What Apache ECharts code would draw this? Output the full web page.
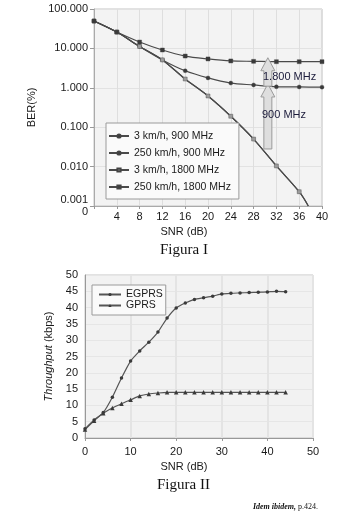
<!DOCTYPE html>
<html>
<head>
<meta charset="utf-8">
<script src="https://cdn.jsdelivr.net/npm/echarts@6.0.0/dist/echarts.min.js"></script>
<style>
  html, body { margin: 0; padding: 0; background: #fff; }
  #chart { width: 352px; height: 530px; }
</style>
</head>
<body>
<div id="chart"></div>
<script>
// Figura I: BER (%) vs SNR (dB)
const berSnr = [0, 4, 8, 12, 16, 20, 24, 28, 32, 36];
const ber3kmh900 = [49.5, 26, 11.2, 5.1, 1.67, 0.62, 0.19, 0.05, 0.0104, 0.0023];
const ber3kmh1800 = [49.5, 26, 11.2, 5.1, 1.67, 0.62, 0.19, 0.05, 0.0104, 0.0023];
const ber3kmhEnd = [37.6, 0.001];
const berSnrFull = [0, 4, 8, 12, 16, 20, 24, 28, 32, 36, 40];
const ber250kmh900 = [49.5, 26, 11.2, 5.1, 2.7, 1.78, 1.32, 1.18, 1.06, 1.05, 1.04];
const ber250kmh1800 = [49.5, 26, 14.5, 9.1, 6.4, 5.4, 4.8, 4.7, 4.6, 4.6, 4.6];
const berSeriesNames = ["3 km/h, 900 MHz", "250 km/h, 900 MHz", "3 km/h, 1800 MHz", "250 km/h, 1800 MHz"];

// Figura II: throughput (kbps) vs SNR (dB)
const thrSnr = [0, 2, 4, 6, 8, 10, 12, 14, 16, 18, 20, 22, 24, 26, 28, 30, 32, 34, 36, 38, 40, 42, 44];
const egprs = [2.8, 5.5, 7.8, 12.5, 18.4, 23.6, 26.7, 29.4, 32.5, 36.8, 39.9, 41.4, 42.5, 43.0, 43.5, 44.2, 44.4, 44.5, 44.6, 44.7, 44.8, 45.0, 44.9];
const gprs = [2.6, 5.3, 7.6, 9.2, 10.5, 11.7, 12.9, 13.5, 13.8, 14.0, 14.0, 14.0, 14.0, 14.0, 14.0, 14.0, 14.0, 14.0, 14.0, 14.0, 14.0, 14.0, 14.0];

const pairs = (xs, ys) => xs.map((x, i) => [x, ys[i]]);

const lineColor = "#4a4a4a";
const labelText = { color: "#1a1a1a", fontSize: 11, fontFamily: "Liberation Sans, Arial, sans-serif" };

const chart = echarts.init(document.getElementById("chart"), null, { renderer: "canvas" });

function berLine(name, data, symbol, size, color) {
  return {
    name, type: "line", xAxisIndex: 0, yAxisIndex: 0, data,
    symbol, symbolSize: size, showSymbol: true, smooth: 0.3,
    lineStyle: { color: lineColor, width: 1.2 },
    itemStyle: { color, borderColor: "#444", borderWidth: 0.4 },
    color,
  };
}

const option = {
  animation: false,
  grid: [
    { left: 94, top: 9, width: 228, height: 197, show: true, backgroundColor: "#f3f3f3", borderColor: "#c4c4c4", borderWidth: 1 },
    { left: 85, top: 275, width: 228, height: 163, show: true, backgroundColor: "#f2f2f2", borderColor: "#c4c4c4", borderWidth: 1 },
  ],
  xAxis: [
    {
      gridIndex: 0, type: "value", min: 0, max: 40, interval: 4,
      name: "SNR (dB)", nameLocation: "middle", nameGap: 20,
      nameTextStyle: { ...labelText, padding: [0, 48, 0, 0] },
      axisLine: { lineStyle: { color: "#aaa" } },
      axisTick: { show: true, length: 3, lineStyle: { color: "#999" } },
      axisLabel: { ...labelText, margin: 5, formatter: (v) => (v === 0 ? "" : String(v)) },
      splitLine: { show: true, lineStyle: { color: "#dedede" } },
    },
    {
      gridIndex: 1, type: "value", min: 0, max: 50, interval: 10,
      name: "SNR (dB)", nameLocation: "middle", nameGap: 23,
      nameTextStyle: { ...labelText, padding: [0, 30, 0, 0] },
      axisLine: { lineStyle: { color: "#999" } },
      axisTick: { show: true, length: 3, lineStyle: { color: "#999" } },
      axisLabel: { ...labelText, margin: 8 },
      splitLine: { show: true, lineStyle: { color: "#e4e4e4", width: 2 } },
    },
  ],
  yAxis: [
    {
      gridIndex: 0, type: "log", logBase: 10, min: 0.001, max: 100,
      name: "BER(%)", nameLocation: "middle", nameGap: 41,
      nameTextStyle: { ...labelText, fontSize: 11 },
      axisLine: { lineStyle: { color: "#aaa" } },
      axisTick: { show: true, length: 4, lineStyle: { color: "#999" } },
      axisLabel: {
        ...labelText, margin: 6, lineHeight: 12,
        formatter: (v) => (v.toFixed(3) === "0.001" ? "0.001\n0" : v.toFixed(3)),
      },
      splitLine: { show: true, lineStyle: { color: "#e2e2e2" } },
    },
    {
      gridIndex: 1, type: "value", min: 0, max: 50, interval: 5,
      name: "{i|Throughput} (kbps)", nameLocation: "middle", nameGap: 26,
      nameTextStyle: { ...labelText, rich: { i: { ...labelText, fontStyle: "italic" } } },
      axisLine: { lineStyle: { color: "#999" } },
      axisTick: { show: false },
      axisLabel: { ...labelText, margin: 7 },
      splitLine: { show: true, lineStyle: { color: "#e6e6e6" } },
    },
  ],
  legend: [
    {
      data: berSeriesNames, orient: "vertical", left: 106, top: 123,
      itemWidth: 20, itemHeight: 4, itemGap: 5,
      backgroundColor: "#fafafa", borderColor: "#9a9a9a", borderWidth: 1,
      padding: [7, 8, 6, 2], textStyle: { ...labelText, fontSize: 10.5, lineHeight: 12 },
    },
    {
      data: ["EGPRS", "GPRS"], orient: "vertical", left: 92, top: 285,
      itemWidth: 22, itemHeight: 4, itemGap: 0,
      backgroundColor: "#fafafa", borderColor: "#9a9a9a", borderWidth: 1,
      padding: [4, 3, 4, 6], textStyle: { ...labelText, fontSize: 10.5, lineHeight: 11 },
    },
  ],
  series: [
    berLine(berSeriesNames[0], pairs(berSnr, ber3kmh900).concat([{ value: ber3kmhEnd, symbol: "none" }]), "circle", 3, "#333"),
    berLine(berSeriesNames[1], pairs(berSnrFull, ber250kmh900), "circle", 4, "#3a3a3a"),
    berLine(berSeriesNames[2], pairs(berSnr, ber3kmh1800).concat([{ value: ber3kmhEnd, symbol: "none" }]), "rect", 4, "#9c9c9c"),
    berLine(berSeriesNames[3], pairs(berSnrFull, ber250kmh1800), "rect", 4, "#3a3a3a"),
    {
      name: "EGPRS", type: "line", xAxisIndex: 1, yAxisIndex: 1, data: pairs(thrSnr, egprs),
      symbol: "circle", symbolSize: 3.5, smooth: 0.2, lineStyle: { color: "#555", width: 1.2 },
      itemStyle: { color: "#3a3a3a" }, color: "#3a3a3a",
    },
    {
      name: "GPRS", type: "line", xAxisIndex: 1, yAxisIndex: 1, data: pairs(thrSnr, gprs),
      symbol: "triangle", symbolSize: 4.5, smooth: 0.2, lineStyle: { color: "#555", width: 1.2 },
      itemStyle: { color: "#3a3a3a" }, color: "#3a3a3a",
    },
  ],
};

chart.setOption(option);

// hollow grey arrows between the curves, positioned through the chart's own scales
function arrow(snr, fromVal, toVal) {
  const [cx, yb] = chart.convertToPixel({ gridIndex: 0 }, [snr, fromVal]);
  const [, yt] = chart.convertToPixel({ gridIndex: 0 }, [snr, toVal]);
  const hw = 4, hh = 7, head = 13;
  return {
    type: "polygon", z: 50,
    shape: { points: [[cx - hw, yb], [cx + hw, yb], [cx + hw, yt + head], [cx + hh, yt + head], [cx, yt], [cx - hh, yt + head], [cx - hw, yt + head]] },
    style: { fill: "#dedede", stroke: "#9a9a9a", lineWidth: 1 },
  };
}

const serif = "Liberation Serif, Times New Roman, serif";
chart.setOption({
  graphic: [
    arrow(30.5, 0.028, 1.25),
    arrow(30.5, 1.1, 5.8),
    { type: "text", z: 60, left: 263, top: 71, style: { text: "1.800 MHz", ...labelText, fill: "#1a1a3a", fontSize: 11 } },
    { type: "text", z: 60, left: 262, top: 109, style: { text: "900 MHz", ...labelText, fill: "#1a1a3a", fontSize: 11 } },
    { type: "text", left: 160, top: 243, style: { text: "Figura I", font: "15px " + serif, fill: "#111" } },
    { type: "text", left: 157, top: 478, style: { text: "Figura II", font: "15px " + serif, fill: "#111" } },
    {
      type: "text", right: 34, top: 503,
      style: {
        text: "{i|Idem ibidem,} p.424.", fontFamily: serif, fontSize: 8, fill: "#111",
        rich: { i: { fontFamily: serif, fontSize: 8, fontStyle: "italic", fontWeight: "bold", fill: "#111" } },
      },
    },
  ],
});
</script>
</body>
</html>
